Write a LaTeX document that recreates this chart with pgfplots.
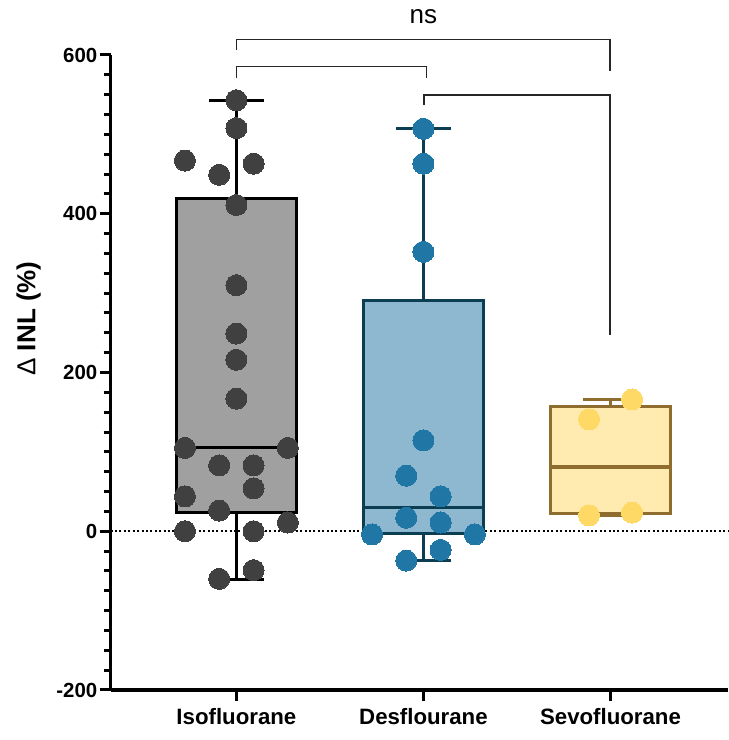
\documentclass[border=0pt]{standalone}
\usepackage{fontspec}
\setmainfont{Liberation Sans}
\usepackage{pgfplots}
\pgfplotsset{compat=1.18}
\definecolor{isodot}{HTML}{404040}
\definecolor{isofill}{HTML}{A0A0A0}
\definecolor{desdot}{HTML}{2077A6}
\definecolor{desfill}{HTML}{8DB8D0}
\definecolor{desline}{HTML}{0B3D53}
\definecolor{sevdot}{HTML}{FFD966}
\definecolor{sevfill}{HTML}{FFEAAF}
\definecolor{sevline}{HTML}{8E6D2F}
\begin{document}
\begin{tikzpicture}
\begin{axis}[
  scale only axis,
  width=308.25pt, height=317pt,
  xmin=-0.672, xmax=2.629,
  ymin=-200, ymax=600,
  axis x line=bottom, axis y line=left,
  axis line style={-, line width=1.6pt},
  tick align=outside,
  major tick length=5.5pt, minor tick length=3.5pt,
  major tick style={black, line width=1.5pt},
  minor tick style={black, line width=1.5pt},
  xtick={0,1,2},
  xticklabels={Isofluorane,Desflourane,Sevofluorane},
  ytick={-200,0,200,400,600},
  minor y tick num=7,
  /pgf/number format/assume math mode=true,
  yticklabel style={font=\bfseries\fontsize{10.2}{12}\selectfont, inner xsep=1pt},
  xticklabel style={font=\bfseries\fontsize{11.1}{13}\selectfont},
  ylabel={{\mdseries Δ} INL (\%)},
  ylabel style={font=\bfseries\fontsize{13}{15}\selectfont, at={(axis description cs:-0.133,0.585)}, anchor=center},
  clip=false,
]
\coordinate (BL) at (axis cs:-1.2637,-263.0);
\coordinate (TR) at (axis cs:2.629,669.3);
% zero reference line
\addplot[black, line width=0.8pt, dash pattern=on 1pt off 1.2pt] coordinates {(-0.672,0) (2.629,0)};
% Isofluorane box
\addplot[black, line width=1.4pt] coordinates {(0,419) (0,543)};
\addplot[black, line width=1.4pt] coordinates {(-0.1475,543) (0.1475,543)};
\addplot[black, line width=1.4pt] coordinates {(0,24) (0,-61)};
\addplot[black, line width=1.4pt] coordinates {(-0.1475,-61) (0.1475,-61)};
\addplot[draw=black, fill=isofill, line width=1.4pt] coordinates {(-0.3215,24) (0.3215,24) (0.3215,419) (-0.3215,419)} --cycle;
\addplot[black, line width=1.4pt] coordinates {(-0.3215,105) (0.3215,105)};
% Desflurane box
\addplot[desline, line width=1.4pt] coordinates {(1,291) (1,507)};
\addplot[desline, line width=1.4pt] coordinates {(0.8525,507) (1.1475,507)};
\addplot[desline, line width=1.4pt] coordinates {(1,-2.5) (1,-37)};
\addplot[desline, line width=1.4pt] coordinates {(0.8525,-37) (1.1475,-37)};
\addplot[draw=desline, fill=desfill, line width=1.4pt] coordinates {(0.6785,-2.5) (1.3215,-2.5) (1.3215,291) (0.6785,291)} --cycle;
\addplot[desline, line width=1.4pt] coordinates {(0.6785,30) (1.3215,30)};
% Sevoflurane box
\addplot[sevline, line width=1.4pt] coordinates {(2,157) (2,166)};
\addplot[sevline, line width=1.4pt] coordinates {(1.8525,166) (2.1475,166)};
\addplot[sevline, line width=1.4pt] coordinates {(1.8525,20) (2.1475,20)};
\addplot[draw=sevline, fill=sevfill, line width=1.4pt] coordinates {(1.6785,22.6) (2.3215,22.6) (2.3215,157) (1.6785,157)} --cycle;
\addplot[sevline, line width=1.6pt] coordinates {(1.6785,81) (2.3215,81)};
% points
\addplot[only marks, mark=*, mark size=5.25pt, color=isodot, mark options={draw=isodot, fill=isodot, line width=0pt}] coordinates {
(0,543) (0,508) (-0.275,467) (-0.092,449) (0.092,463) (0,411) (0,310) (0,249) (0,216) (0,167)
(-0.275,105) (0.275,105) (-0.092,83) (0.092,83) (0.092,54) (-0.275,44) (-0.092,26) (0.275,11)
(-0.275,0) (0.092,0) (0.092,-49) (-0.092,-60)};
\addplot[only marks, mark=*, mark size=5.25pt, color=desdot, mark options={draw=desdot, fill=desdot, line width=0pt}] coordinates {
(1,507) (1,463) (1,352) (1,114.5) (0.908,70) (1.092,44) (0.908,17) (1.092,11) (0.725,-4) (1.275,-4) (1.092,-23.5) (0.908,-37)};
\addplot[only marks, mark=*, mark size=5.25pt, color=sevdot, mark options={draw=sevdot, fill=sevdot, line width=0pt}] coordinates {
(2.115,166) (1.885,141) (1.885,20) (2.115,23.5)};
% significance brackets
\draw[black!85, line width=0.6pt] (axis cs:0,606.3) -- (axis cs:0,619.2) -- (axis cs:1.997,619.2) -- (axis cs:1.997,580.2);
\draw[black!85, line width=0.6pt] (axis cs:0,570.6) -- (axis cs:0,585.3) -- (axis cs:1.016,585.3) -- (axis cs:1.016,570.6);
\draw[black!85, line width=0.6pt] (axis cs:1.003,537.0) -- (axis cs:1.003,549.6) -- (axis cs:1.997,549.6) -- (axis cs:1.997,247.2);
\node[font=\fontsize{13}{15}\selectfont] at (axis cs:1.0,647.9) {ns};
\end{axis}
\pgfresetboundingbox
\path[use as bounding box] (BL) rectangle (TR);
\end{tikzpicture}
\end{document}
